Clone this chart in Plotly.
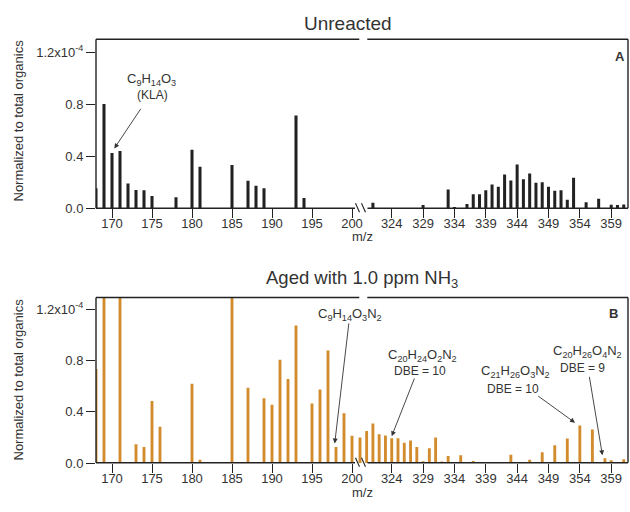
import plotly.graph_objects as go

# ---------------- data (normalized signal, units of 1e-4) ----------------
top_left_mz = [168, 169, 170, 171, 172, 173, 174, 175, 178, 180, 181, 185, 187, 188, 189, 193, 194]
top_left_val = [0.153, 0.80, 0.425, 0.44, 0.19, 0.14, 0.138, 0.094, 0.085, 0.45, 0.32, 0.333, 0.212, 0.174, 0.154, 0.712, 0.079]

top_right_mz = [321, 329, 333, 334, 336, 337, 338, 339, 340, 341, 342, 343, 344, 345, 346, 347, 348,
                349, 350, 351, 352, 353, 355, 357, 359, 360, 361]
top_right_val = [0.043, 0.025, 0.145, 0.008, 0.033, 0.107, 0.107, 0.138, 0.183, 0.166, 0.26, 0.214, 0.336,
                 0.224, 0.268, 0.196, 0.2, 0.166, 0.135, 0.138, 0.066, 0.234, 0.046, 0.074, 0.028, 0.025, 0.03]

bot_left_mz = [168, 169, 171, 173, 174, 175, 176, 180, 181, 185, 187, 189, 190, 191, 192, 193, 195,
               196, 197, 198, 199, 200, 201]
bot_left_val = [0.732, 1.6, 1.6, 0.146, 0.125, 0.484, 0.282, 0.617, 0.026, 1.6, 0.586, 0.505, 0.455,
                0.805, 0.654, 1.072, 0.463, 0.573, 0.876, 0.125, 0.387, 0.212, 0.199]

bot_right_mz = [320, 321, 322, 323, 324, 325, 326, 327, 328, 329, 330, 331, 332, 333, 335, 337, 343,
                346, 348, 350, 352, 354, 356, 358, 359, 361]
bot_right_val = [0.25, 0.308, 0.225, 0.214, 0.193, 0.193, 0.157, 0.175, 0.125, 0.013, 0.115, 0.199, 0.01,
                 0.055, 0.06, 0.016, 0.065, 0.026, 0.084, 0.139, 0.191, 0.293, 0.261, 0.037, 0.021, 0.029]

left_ticks = [170, 175, 180, 185, 190, 195, 200]
right_ticks = [324, 329, 334, 339, 344, 349, 354, 359]
y_ticks = [0, 0.4, 0.8, 1.2]
y_ticktext = ["0.0", "0.4", "0.8", "1.2x10<sup>-4</sup>"]

# ---------------- style ----------------
FONT = "Liberation Sans, Arial, sans-serif"
DARK = "#222222"
TXT = "#333333"
ORANGE = "#D28C2E"
W, H = 630, 512
ML, MR, MT, MB = 96, 2, 39, 49
PW, PH = W - ML - MR, H - MT - MB


def px(x):
    return (x - ML) / PW


def py(y):
    return (H - MB - y) / PH


fig = go.Figure()
fig.add_bar(x=top_left_mz, y=top_left_val, xaxis="x", yaxis="y", width=0.38,
            marker=dict(color=DARK, line=dict(width=0)))
fig.add_bar(x=top_right_mz, y=top_right_val, xaxis="x2", yaxis="y", width=0.48,
            marker=dict(color=DARK, line=dict(width=0)))
fig.add_bar(x=bot_left_mz, y=bot_left_val, xaxis="x3", yaxis="y2", width=0.36,
            marker=dict(color=ORANGE, line=dict(width=0)))
fig.add_bar(x=bot_right_mz, y=bot_right_val, xaxis="x4", yaxis="y2", width=0.46,
            marker=dict(color=ORANGE, line=dict(width=0)))

top_dom = [py(208.3), 1.0]
bot_dom = [0.0, py(297.5)]

xcommon = dict(ticks="outside", ticklen=9, tickwidth=1.3, tickcolor=DARK, showgrid=False,
               zeroline=False, showline=False, ticklabelstandoff=-6,
               tickfont=dict(size=13, color=TXT, family=FONT))
ycommon = dict(ticks="outside", ticklen=9, tickwidth=1.3, tickcolor=DARK, showgrid=False,
               zeroline=False, showline=False, tickvals=y_ticks, ticktext=y_ticktext,
               tickfont=dict(size=13, color=TXT, family=FONT))

fig.update_layout(
    width=W, height=H, autosize=False,
    margin=dict(l=ML, r=MR, t=MT, b=MB, pad=0),
    paper_bgcolor="white", plot_bgcolor="white",
    showlegend=False, barmode="overlay",
    font=dict(family=FONT, color=TXT, size=13),
    xaxis=dict(domain=[0, 0.5], range=[168, 201.25], anchor="y", tickvals=left_ticks, **xcommon),
    xaxis2=dict(domain=[0.5, 1], range=[319.26, 361.68], anchor="y", tickvals=right_ticks, **xcommon),
    xaxis3=dict(domain=[0, 0.5], range=[168, 201.25], anchor="y2", tickvals=left_ticks, **xcommon),
    xaxis4=dict(domain=[0.5, 1], range=[319.26, 361.68], anchor="y2", tickvals=right_ticks, **xcommon),
    yaxis=dict(domain=top_dom, range=[0, 1.3], anchor="x", **ycommon),
    yaxis2=dict(domain=bot_dom, range=[0, 1.29], anchor="x3", **ycommon),
)

# ---------------- frames with axis breaks ----------------
shapes = []


def seg(x0, y0, x1, y1, w=1.4):
    shapes.append(dict(type="line", xref="paper", yref="paper", x0=px(x0), y0=py(y0), x1=px(x1), y1=py(y1),
                       line=dict(color=DARK, width=w), layer="above"))


for top, bottom in [(39.3, 208.3), (297.5, 462.7)]:
    seg(96, top, 359.3, top)
    seg(367.3, top, 628, top)
    seg(96, bottom, 355, bottom)
    seg(367.5, bottom, 628, bottom)
    seg(96, top, 96, bottom)
    seg(628, top, 628, bottom)
    # break slashes
    seg(355.5, bottom - 5, 359.5, bottom + 4, 1.1)
    seg(361.5, bottom - 5, 365.5, bottom + 4, 1.1)

fig.update_layout(shapes=shapes)

# ---------------- annotations ----------------
ann = []


def text(x, y, s, size=13, **kw):
    ann.append(dict(xref="paper", yref="paper", x=px(x), y=py(y), text=s, showarrow=False,
                    xanchor="center", yanchor="middle", font=dict(size=size, color=TXT, family=FONT), **kw))


def arrow(xref, yref, x, y, ax, ay):
    ann.append(dict(xref=xref, yref=yref, x=x, y=y, ax=ax, ay=ay, text="", showarrow=True,
                    arrowhead=2, arrowsize=1.1, arrowwidth=0.9, arrowcolor=TXT, standoff=0))


text(348, 23, "Unreacted", size=19)
text(362, 279, "Aged with 1.0 ppm NH<sub>3</sub>", size=18.5)
text(362, 237, "m/z", size=13)
text(362, 493, "m/z", size=13)
text(17.5, 121, "Normalized to total organics", size=13, textangle=-90)
text(17.5, 380, "Normalized to total organics", size=13, textangle=-90)
text(619.5, 56, "<b>A</b>", size=13)
text(613.5, 313.5, "<b>B</b>", size=13)

text(151, 79, "C<sub>9</sub>H<sub>14</sub>O<sub>3</sub>", size=13)
text(152, 95, "(KLA)", size=12)
arrow("x", "y", 170.29, 0.46, 27.4, -41)

text(350, 314, "C<sub>9</sub>H<sub>14</sub>O<sub>3</sub>N<sub>2</sub>", size=13)
arrow("x3", "y2", 197.84, 0.152, 14.3, -121.6)

text(422, 355, "C<sub>20</sub>H<sub>24</sub>O<sub>2</sub>N<sub>2</sub>", size=13)
text(420, 371, "DBE = 10", size=12)
arrow("x4", "y2", 324.0, 0.209, 23.3, -59.3)

text(515, 371, "C<sub>21</sub>H<sub>26</sub>O<sub>3</sub>N<sub>2</sub>", size=13)
text(513, 389, "DBE = 10", size=12)
arrow("x4", "y2", 353.23, 0.314, -38.3, -27.7)

text(587, 351, "C<sub>20</sub>H<sub>26</sub>O<sub>4</sub>N<sub>2</sub>", size=13)
text(582, 368, "DBE = 9", size=12)
arrow("x4", "y2", 357.6, 0.06, -13.3, -80)

fig.update_layout(annotations=ann)

fig.write_html("out.html", config={"displayModeBar": False},
               post_script="document.body.style.margin='0';")
